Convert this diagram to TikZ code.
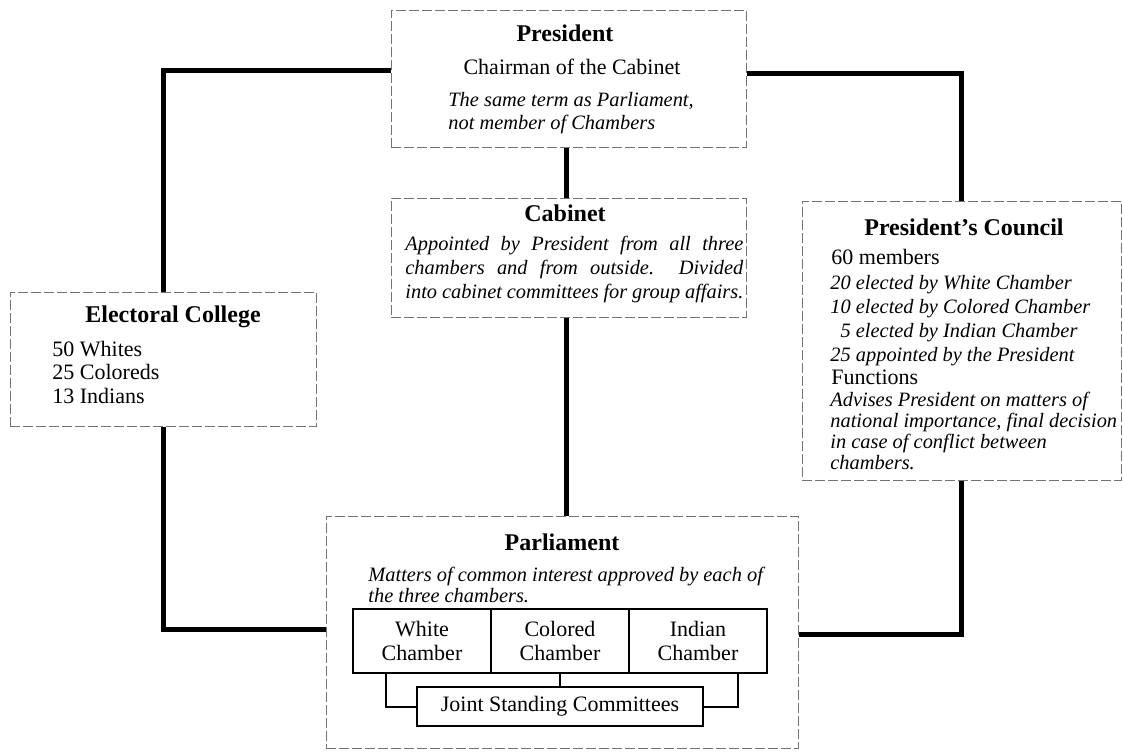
\documentclass[tikz,border=0pt]{standalone}
\usepackage{fontspec}
\setmainfont{Liberation Serif}
\usepackage{tikz}
\tikzset{
	box/.style={draw=black!55, line width=.5pt, dash pattern=on 5pt off 1.5pt, inner sep=0pt},
	chamber/.style={draw, line width=1pt, inner sep=0pt, minimum width=69pt, minimum height=32pt, align=center, font=\fontsize{11}{12}\selectfont},
	link/.style={line width=2.5pt},
	title/.style={font=\fontsize{12}{14}\selectfont\bfseries, inner sep=0pt},
	plain/.style={font=\fontsize{11}{#1}\selectfont, align=left, inner sep=0pt},
	plain/.default=11.75pt,
	note/.style={font=\fontsize{10.2}{#1}\selectfont\itshape, align=left, inner sep=0pt},
	note/.default=12pt,
}

\begin{document}
\begin{tikzpicture}[x=.5pt, y=-.5pt]
	\useasboundingbox (0,0) rectangle (1123,751);

	\node[box, minimum width=177.5pt, minimum height=68.5pt] (president) at (568.5,78.5) {};
	\node[box, minimum width=177.5pt, minimum height=59.5pt] (cabinet) at (568.5,257.5) {};
	\node[box, minimum width=153pt, minimum height=67pt] (college) at (163,359) {};
	\node[box, minimum width=159.5pt, minimum height=139.5pt] (council) at (961.5,340.5) {};
	\node[box, minimum width=236pt, minimum height=116pt] (parliament) at (562,632) {};

	\node[title] (president-title) at (565,33) {President};
	\node[plain] (president-role) at (572,67) {Chairman of the Cabinet};
	\node[note=11.5pt, anchor=base west] (president-term) at (448,129) {The same term as Parliament,\\not member of Chambers};

	\node[title] (cabinet-title) at (565,213) {Cabinet};
	\node[note, text width=169pt, align=justify, anchor=base west] (cabinet-text) at (405,250)
		{Appointed by President from all three\linebreak chambers and from outside.\ \ Divided\linebreak into cabinet committees for group affairs.};

	\node[title] (college-title) at (173,317) {Electoral College};
	\node[plain, anchor=base west] (college-text) at (52,403) {50 Whites\\25 Coloreds\\13 Indians};

	\node[title] (council-title) at (964,227) {President’s Council};
	\node[plain, anchor=base west] (council-size) at (831,264) {60 members};
	\node[note, anchor=base west] (council-seats) at (830,361)
		{20 elected by White Chamber\\10 elected by Colored Chamber\\\hphantom{2}5 elected by Indian Chamber\\25 appointed by the President};
	\node[plain, anchor=base west] (council-functions) at (831,384) {Functions};
	\node[note=10.35pt, anchor=base west] (council-text) at (830,469)
		{Advises President on matters of\\national importance, final decision\\in case of conflict between\\chambers.};

	\node[title] (parliament-title) at (562,542) {Parliament};
	\node[note=9pt, anchor=base west] (parliament-text) at (368,602)
		{Matters of common interest approved by each of\\the three chambers.};

	\node[chamber] (white) at (422,641) {White\\Chamber};
	\node[chamber] (colored) at (560,641) {Colored\\Chamber};
	\node[chamber] (indian) at (698,641) {Indian\\Chamber};
	\node[chamber, minimum width=143pt, minimum height=19.5pt] (joint) at (560,706.5) {Joint Standing Committees};

	\draw[line width=1pt] ([xshift=17pt]white.south west) |- (joint.west);
	\draw[line width=1pt] (colored.south) -- (joint.north);
	\draw[line width=1pt] ([xshift=-15pt]indian.south east) |- (joint.east);

	\draw[link] ([yshift=4pt]president.west) -| (college);
	\draw[link] (college) |- ([yshift=1.5pt]parliament.west);
	\draw[link] ([yshift=2.75pt]president.east) -| (council);
	\draw[link] (council) |- ([yshift=-1pt]parliament.east);
	\draw[link] ([xshift=-1.25pt]president.south) -- ([xshift=-1.25pt]cabinet.north);
	\draw[link] ([xshift=-1.25pt]cabinet.south) -- ([xshift=-1.25pt]cabinet.south |- parliament.north);
\end{tikzpicture}
\end{document}
